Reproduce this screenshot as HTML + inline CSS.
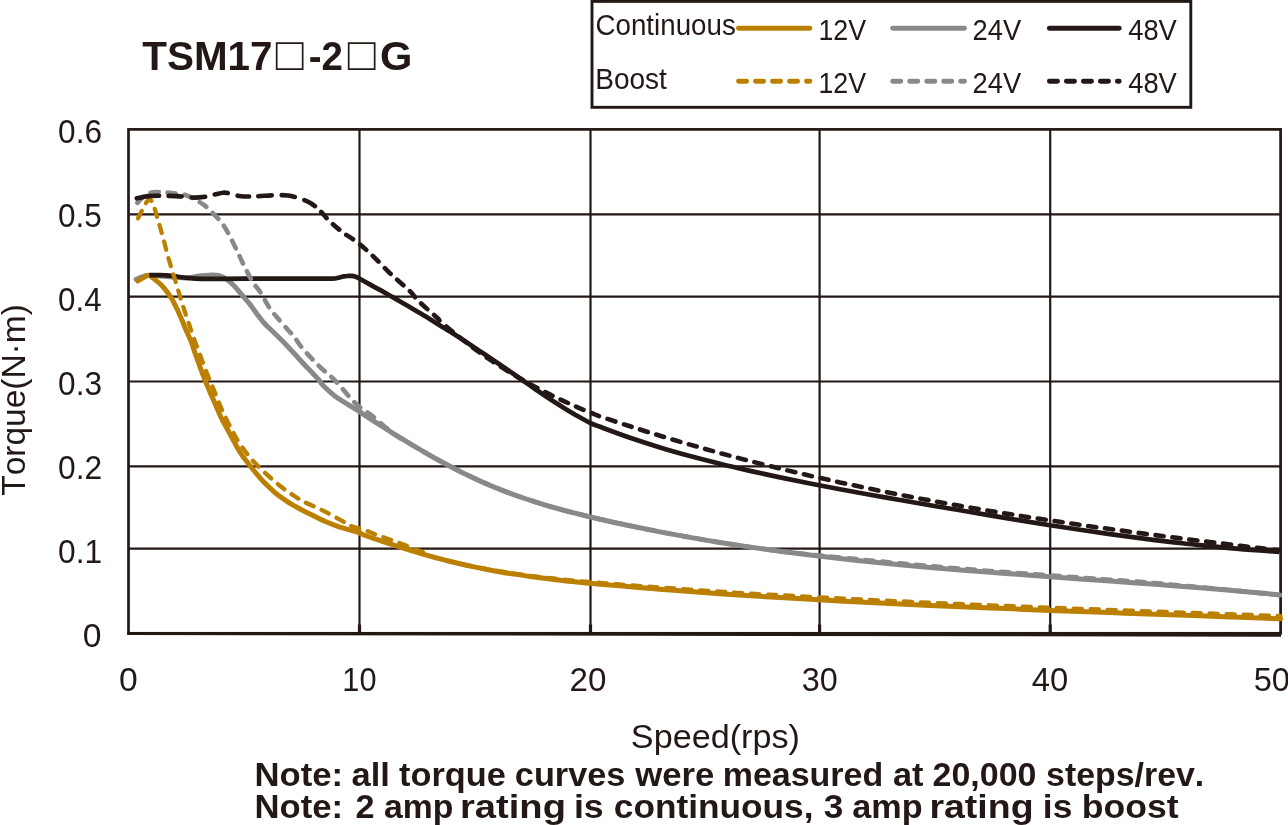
<!DOCTYPE html>
<html lang="en"><head><meta charset="utf-8"><title>TSM17-2G torque curves</title>
<style>
html,body{margin:0;padding:0;background:#fff;}
body{width:1288px;height:825px;overflow:hidden;}
svg{display:block;}
text{font-family:"Liberation Sans","Noto Sans CJK JP",sans-serif;fill:#231815;}
.b{font-weight:bold;}
text{font-kerning:none;}
.g{stroke:#231815;fill:none;}
.c{fill:none;stroke-linecap:round;stroke-linejoin:round;}
</style></head><body>
<svg width="1288" height="825" viewBox="0 0 1288 825">
<rect width="1288" height="825" fill="#fff"/>
<g class="g" stroke-width="2.2">
<line x1="359.5" y1="129.4" x2="359.5" y2="633.3"/>
<line x1="590.5" y1="129.4" x2="590.5" y2="633.3"/>
<line x1="819.6" y1="129.4" x2="819.6" y2="633.3"/>
<line x1="1050.2" y1="129.4" x2="1050.2" y2="633.3"/>
<line x1="128.5" y1="214.3" x2="1280.6" y2="214.3"/>
<line x1="128.5" y1="296.6" x2="1280.6" y2="296.6"/>
<line x1="128.5" y1="381.5" x2="1280.6" y2="381.5"/>
<line x1="128.5" y1="466.3" x2="1280.6" y2="466.3"/>
<line x1="128.5" y1="548.7" x2="1280.6" y2="548.7"/>
</g>
<g class="g" stroke-width="3.2">
<line x1="359.5" y1="624.5" x2="359.5" y2="633.3"/>
<line x1="590.5" y1="624.5" x2="590.5" y2="633.3"/>
<line x1="819.6" y1="624.5" x2="819.6" y2="633.3"/>
<line x1="1050.2" y1="624.5" x2="1050.2" y2="633.3"/>
</g>
<rect class="g" x="128.5" y="129.4" width="1152.1" height="503.9" stroke-width="2.7"/>
<line class="g" x1="127.2" y1="633.6" x2="1281" y2="635.3" stroke-width="2.8"/>
<path class="c" d="M136.1 279.2C137.1 278.8 140.1 277.6 142.0 277.0C143.9 276.4 144.3 275.7 147.3 275.5C150.3 275.3 153.8 275.6 160.0 276.0C166.2 276.4 178.4 277.9 184.6 278.0C190.8 278.1 193.8 276.7 197.0 276.3C200.2 275.9 201.5 275.7 204.0 275.5C206.5 275.3 209.3 275.0 211.9 275.0C214.5 275.0 216.9 274.9 219.4 275.6C221.9 276.3 224.3 277.7 226.8 279.4C229.3 281.1 231.8 283.4 234.3 286.0C236.8 288.6 239.2 291.8 241.7 294.7C244.2 297.6 246.7 300.3 249.2 303.4C251.7 306.5 254.1 310.1 256.6 313.4C259.1 316.7 261.5 320.1 264.1 323.0C266.7 325.9 269.0 327.9 272.0 330.8C275.0 333.7 278.3 336.8 282.0 340.6C285.7 344.4 290.1 349.1 294.2 353.5C298.3 357.9 302.5 362.6 306.6 367.0C310.8 371.4 316.5 377.2 319.1 380.2C321.7 383.2 319.8 382.2 322.4 384.8C325.0 387.4 330.6 392.8 334.8 396.0C339.0 399.2 343.2 401.5 347.3 404.1C351.4 406.7 356.8 409.7 359.7 411.6C362.6 413.5 361.8 413.2 365.0 415.4C368.2 417.5 374.3 421.5 379.0 424.5C383.7 427.4 388.3 430.4 393.0 433.3C397.7 436.2 402.3 439.1 407.0 441.9C411.7 444.8 416.3 447.5 421.0 450.2C425.7 453.0 430.3 455.6 435.0 458.2C439.7 460.8 444.3 463.3 449.0 465.8C453.7 468.3 458.3 470.6 463.0 472.9C467.7 475.2 472.3 477.5 477.0 479.6C481.7 481.8 486.3 483.8 491.0 485.8C495.7 487.7 500.3 489.6 505.0 491.4C509.7 493.2 514.3 494.9 519.0 496.5C523.7 498.2 528.3 499.7 533.0 501.2C537.7 502.7 542.3 504.2 547.0 505.6C551.7 506.9 556.3 508.2 561.0 509.5C565.7 510.8 570.3 512.0 575.0 513.2C579.7 514.3 584.8 515.6 589.0 516.6C593.2 517.6 593.2 517.6 600.0 519.2C606.8 520.7 620.0 523.7 630.0 525.8C640.0 527.9 650.0 529.9 660.0 531.9C670.0 533.8 680.0 535.6 690.0 537.4C700.0 539.2 710.0 540.9 720.0 542.5C730.0 544.1 740.0 545.6 750.0 547.1C760.0 548.5 770.0 549.9 780.0 551.3C790.0 552.6 800.0 553.9 810.0 555.1C820.0 556.3 830.0 557.5 840.0 558.6C850.0 559.7 860.0 560.7 870.0 561.8C880.0 562.8 890.0 563.7 900.0 564.7C910.0 565.6 920.0 566.5 930.0 567.4C940.0 568.3 950.0 569.1 960.0 569.9C970.0 570.7 980.0 571.5 990.0 572.3C1000.0 573.0 1010.0 573.8 1020.0 574.5C1030.0 575.3 1040.0 576.0 1050.0 576.7C1060.0 577.4 1070.0 578.1 1080.0 578.9C1090.0 579.6 1100.0 580.3 1110.0 581.0C1120.0 581.7 1130.0 582.4 1140.0 583.2C1150.0 583.9 1160.0 584.7 1170.0 585.4C1180.0 586.2 1190.0 587.0 1200.0 587.8C1210.0 588.6 1220.0 589.5 1230.0 590.3C1240.0 591.2 1251.7 592.3 1260.0 593.1C1268.3 593.8 1276.4 594.6 1279.7 595.0" stroke="#898989" stroke-width="5.0"/>
<path class="c" d="M137.8 281.0C138.6 280.5 141.1 279.0 142.5 278.2C143.9 277.4 145.2 276.5 146.3 276.0C147.4 275.5 148.0 275.2 148.8 275.2C149.6 275.2 150.2 275.7 151.0 276.2C151.8 276.7 151.6 277.0 153.3 278.4C155.0 279.8 158.5 282.2 161.1 284.8C163.7 287.4 166.7 291.4 168.8 294.2C170.9 297.0 171.9 299.1 173.5 301.9C175.1 304.7 176.5 307.8 178.1 311.2C179.7 314.6 181.5 319.1 182.8 322.1C184.1 325.2 184.5 326.4 185.8 329.5C187.1 332.6 189.3 336.9 190.8 340.7C192.3 344.5 192.5 345.9 194.8 352.4C197.1 358.9 201.9 372.2 204.8 379.7C207.7 387.1 209.7 391.3 212.2 397.1C214.7 402.9 218.0 410.7 219.7 414.5C221.4 418.3 220.5 416.4 222.4 420.0C224.3 423.6 228.1 430.6 231.1 436.1C234.1 441.6 237.6 448.4 240.5 453.0C243.4 457.6 245.7 460.1 248.3 463.5C250.9 466.9 253.4 470.1 256.0 473.2C258.6 476.3 261.2 479.4 263.8 482.1C266.4 484.8 268.9 487.1 271.5 489.4C274.1 491.7 276.7 494.1 279.3 496.1C281.9 498.1 284.4 499.7 287.0 501.4C289.6 503.1 292.2 504.6 294.9 506.2C297.6 507.8 300.6 509.3 303.4 510.8C306.2 512.3 309.3 513.7 311.9 515.0C314.5 516.3 316.6 517.4 318.9 518.5C321.2 519.6 323.5 520.7 325.9 521.7C328.2 522.7 330.7 523.7 333.0 524.6C335.3 525.5 337.7 526.5 339.9 527.2C342.1 527.9 344.0 528.4 346.0 528.9C348.0 529.4 349.6 529.9 352.0 530.5C354.4 531.1 358.4 532.2 360.1 532.8C361.8 533.4 359.4 533.2 362.0 534.3C364.6 535.4 371.3 537.6 376.0 539.2C380.7 540.8 385.3 542.3 390.0 543.9C394.7 545.4 399.3 546.9 404.0 548.4C408.7 549.9 413.3 551.3 418.0 552.7C422.7 554.1 427.3 555.4 432.0 556.7C436.7 558.0 441.3 559.2 446.0 560.4C450.7 561.6 455.3 562.8 460.0 563.8C464.7 564.9 469.3 565.9 474.0 566.9C478.7 567.9 483.3 568.8 488.0 569.7C492.7 570.5 497.3 571.4 502.0 572.2C506.7 573.0 511.3 573.7 516.0 574.4C520.7 575.1 525.3 575.8 530.0 576.4C534.7 577.1 539.3 577.7 544.0 578.3C548.7 578.9 553.3 579.4 558.0 579.9C562.7 580.5 567.3 581.0 572.0 581.5C576.7 582.0 581.3 582.4 586.0 582.9C590.7 583.3 592.7 583.5 600.0 584.2C607.3 584.8 620.0 585.9 630.0 586.8C640.0 587.6 650.0 588.4 660.0 589.2C670.0 590.0 680.0 590.8 690.0 591.5C700.0 592.3 710.0 593.0 720.0 593.7C730.0 594.4 740.0 595.0 750.0 595.7C760.0 596.3 770.0 597.0 780.0 597.6C790.0 598.2 800.0 598.8 810.0 599.3C820.0 599.9 830.0 600.5 840.0 601.0C850.0 601.5 860.0 602.1 870.0 602.6C880.0 603.1 890.0 603.6 900.0 604.0C910.0 604.5 920.0 605.0 930.0 605.4C940.0 605.9 950.0 606.3 960.0 606.7C970.0 607.2 980.0 607.6 990.0 608.0C1000.0 608.4 1010.0 608.8 1020.0 609.2C1030.0 609.6 1040.0 610.0 1050.0 610.4C1060.0 610.7 1070.0 611.1 1080.0 611.5C1090.0 611.9 1100.0 612.2 1110.0 612.6C1120.0 613.0 1130.0 613.3 1140.0 613.7C1150.0 614.0 1160.0 614.4 1170.0 614.8C1180.0 615.1 1190.0 615.5 1200.0 615.8C1210.0 616.2 1220.0 616.6 1230.0 616.9C1240.0 617.3 1251.6 617.7 1260.0 618.0C1268.4 618.3 1277.1 618.7 1280.5 618.8" stroke="#BB8002" stroke-width="5.0"/>
<path class="c" style="stroke-linecap:butt" d="M149.3 275.1C151.1 275.1 157.2 275.1 160.0 275.1C162.8 275.1 163.9 275.2 166.0 275.3C168.1 275.4 169.6 275.5 172.7 275.9C175.8 276.3 180.4 277.1 184.3 277.5C188.2 277.9 192.1 278.4 196.0 278.6C199.9 278.8 203.7 278.9 207.6 278.9C211.5 278.9 210.7 278.9 219.4 278.8C228.1 278.8 246.6 278.6 260.0 278.6C273.4 278.6 288.7 278.6 300.0 278.6C311.3 278.6 322.2 278.6 328.0 278.6C333.8 278.6 333.0 278.7 334.9 278.5C336.8 278.3 338.0 277.8 339.5 277.4C341.0 277.0 342.6 276.6 343.9 276.4C345.2 276.2 346.3 276.1 347.5 276.0C348.7 275.9 349.9 275.7 351.3 275.8C352.7 275.9 354.4 276.3 355.8 276.8C357.2 277.3 357.1 277.2 359.8 278.7C362.5 280.2 368.6 283.7 372.0 285.6C375.4 287.5 376.3 287.9 380.0 289.9C383.7 292.0 389.3 295.2 394.0 297.9C398.7 300.6 403.3 303.3 408.0 306.0C412.7 308.8 417.3 311.5 422.0 314.3C426.7 317.1 431.3 320.0 436.0 322.9C440.7 325.7 445.3 328.7 450.0 331.6C454.7 334.6 459.3 337.6 464.0 340.6C468.7 343.7 473.3 346.8 478.0 349.9C482.7 353.0 487.3 356.1 492.0 359.2C496.7 362.4 501.3 365.6 506.0 368.8C510.7 372.0 515.3 375.2 520.0 378.5C524.7 381.7 529.3 385.0 534.0 388.2C538.7 391.4 543.3 394.6 548.0 397.7C552.7 400.8 557.3 403.8 562.0 406.7C566.7 409.7 571.3 412.5 576.0 415.2C580.7 417.9 586.0 421.0 590.0 422.9C594.0 424.9 593.3 424.3 600.0 426.8C606.7 429.3 620.0 434.3 630.0 437.8C640.0 441.2 650.0 444.4 660.0 447.5C670.0 450.6 680.0 453.4 690.0 456.1C700.0 458.8 710.0 461.4 720.0 463.8C730.0 466.3 740.0 468.6 750.0 470.9C760.0 473.1 770.0 475.3 780.0 477.4C790.0 479.5 800.0 481.5 810.0 483.5C820.0 485.4 830.0 487.3 840.0 489.2C850.0 491.1 860.0 492.9 870.0 494.7C880.0 496.5 890.0 498.2 900.0 500.0C910.0 501.7 920.0 503.4 930.0 505.2C940.0 506.9 950.0 508.6 960.0 510.3C970.0 512.0 980.0 513.7 990.0 515.4C1000.0 517.1 1010.0 518.7 1020.0 520.4C1030.0 522.0 1040.0 523.6 1050.0 525.2C1060.0 526.7 1070.0 528.3 1080.0 529.8C1090.0 531.3 1100.0 532.7 1110.0 534.1C1120.0 535.5 1130.0 536.9 1140.0 538.2C1150.0 539.4 1160.0 540.7 1170.0 541.9C1180.0 543.0 1190.0 544.2 1200.0 545.2C1210.0 546.2 1220.0 547.2 1230.0 548.1C1240.0 549.0 1251.8 549.9 1260.0 550.5C1268.2 551.1 1275.9 551.6 1279.1 551.8" stroke="#231815" stroke-width="4.7"/>
<path class="c" d="M138.0 218.4C138.8 216.8 141.5 211.3 143.0 208.5C144.5 205.7 145.9 203.1 147.0 201.5C148.1 199.9 148.8 199.3 149.5 199.2C150.2 199.1 150.8 200.1 151.5 201.0C152.2 201.9 152.4 201.7 153.5 204.8C154.6 207.9 156.3 214.3 157.9 219.7C159.5 225.1 161.2 231.1 162.9 237.1C164.6 243.1 166.2 250.1 167.8 255.7C169.4 261.3 171.0 266.8 172.2 270.6C173.3 274.4 173.7 275.2 174.7 278.6C175.7 282.0 177.2 286.9 178.4 291.0C179.6 295.1 180.9 299.5 182.1 303.4C183.3 307.3 184.6 310.9 185.8 314.6C187.1 318.3 188.3 322.1 189.6 325.8C190.8 329.5 191.8 332.8 193.3 337.0C194.8 341.2 196.5 345.4 198.6 351.1C200.7 356.8 203.7 365.2 206.0 371.0C208.3 376.8 209.9 380.3 212.2 385.9C214.5 391.5 217.6 399.5 219.7 404.5C221.8 409.5 222.8 411.8 224.7 415.7C226.6 419.6 228.8 424.1 230.9 428.1C233.0 432.1 234.6 435.5 237.3 439.9C240.0 444.2 244.2 450.2 247.3 454.2C250.4 458.2 252.5 460.5 256.0 464.1C259.5 467.7 264.3 472.2 268.4 475.9C272.5 479.6 276.7 483.3 280.8 486.5C284.9 489.7 289.3 492.6 293.2 495.2C297.1 497.8 300.0 499.7 304.4 502.0C308.8 504.3 315.4 506.9 319.3 508.8C323.2 510.7 324.0 511.1 328.0 513.2C332.0 515.4 339.9 519.7 343.5 521.7C347.1 523.7 345.9 523.9 349.8 525.4C353.7 526.9 363.0 529.5 367.1 531.0C371.2 532.5 369.6 532.2 374.6 534.1C379.6 536.0 389.4 539.4 397.0 542.2C404.6 545.0 414.2 548.6 420.0 551.0C425.8 553.4 427.7 555.1 432.0 556.7C436.3 558.3 441.3 559.2 446.0 560.4C450.7 561.5 455.3 562.6 460.0 563.7C464.7 564.7 469.3 565.7 474.0 566.6C478.7 567.6 483.3 568.5 488.0 569.3C492.7 570.1 497.3 570.9 502.0 571.7C506.7 572.4 511.3 573.1 516.0 573.8C520.7 574.5 525.3 575.1 530.0 575.7C534.7 576.4 539.3 576.9 544.0 577.5C548.7 578.0 553.3 578.5 558.0 579.0C562.7 579.5 567.3 580.0 572.0 580.4C576.7 580.9 581.3 581.3 586.0 581.7C590.7 582.1 592.7 582.3 600.0 582.9C607.3 583.5 620.0 584.5 630.0 585.3C640.0 586.0 650.0 586.8 660.0 587.5C670.0 588.2 680.0 588.9 690.0 589.6C700.0 590.3 710.0 591.0 720.0 591.6C730.0 592.3 740.0 592.9 750.0 593.5C760.0 594.1 770.0 594.7 780.0 595.2C790.0 595.8 800.0 596.3 810.0 596.8C820.0 597.4 830.0 597.8 840.0 598.3C850.0 598.9 860.0 599.4 870.0 599.9C880.0 600.4 890.0 600.9 900.0 601.3C910.0 601.8 920.0 602.3 930.0 602.7C940.0 603.2 950.0 603.6 960.0 604.0C970.0 604.5 980.0 604.9 990.0 605.3C1000.0 605.7 1010.0 606.1 1020.0 606.5C1030.0 606.9 1040.0 607.3 1050.0 607.7C1060.0 608.0 1070.0 608.4 1080.0 608.8C1090.0 609.2 1100.0 609.5 1110.0 609.9C1120.0 610.3 1130.0 610.6 1140.0 611.0C1150.0 611.3 1160.0 611.7 1170.0 612.1C1180.0 612.4 1190.0 612.8 1200.0 613.1C1210.0 613.5 1220.0 613.9 1230.0 614.2C1240.0 614.6 1251.6 615.0 1260.0 615.3C1268.4 615.6 1277.1 616.0 1280.5 616.1" stroke="#BB8002" stroke-width="4.3" stroke-dasharray="8.2 8.8"/>
<path class="c" d="M137.4 202.9C138.3 201.9 141.0 198.7 143.0 197.0C145.0 195.3 146.8 193.8 149.2 193.0C151.6 192.2 154.5 192.2 157.3 192.1C160.1 192.0 162.9 192.2 166.0 192.5C169.1 192.8 172.8 193.2 175.9 193.6C179.0 194.0 181.5 193.9 184.6 194.8C187.7 195.7 191.2 197.4 194.5 199.2C197.8 201.0 201.4 203.0 204.5 205.4C207.6 207.8 210.1 210.3 213.2 213.5C216.3 216.7 220.0 220.2 223.1 224.7C226.2 229.1 229.1 235.0 231.8 240.2C234.5 245.4 237.0 251.0 239.3 255.7C241.6 260.4 243.2 264.2 245.5 268.6C247.8 273.0 250.4 278.4 252.9 282.3C255.4 286.2 257.7 288.1 260.4 292.2C263.1 296.3 266.1 302.8 269.0 307.1C271.9 311.5 274.6 314.5 277.8 318.3C281.0 322.1 285.3 326.9 288.0 330.0C290.7 333.1 291.9 333.9 294.2 336.8C296.5 339.7 298.6 343.6 301.7 347.4C304.8 351.2 309.6 356.3 312.9 359.8C316.2 363.3 318.8 365.9 321.6 368.5C324.5 371.1 327.2 373.1 330.0 375.7C332.8 378.3 335.3 380.6 338.6 384.2C341.9 387.8 346.3 393.5 349.8 397.3C353.3 401.1 356.0 404.1 359.7 407.2C363.4 410.3 366.6 411.5 372.1 415.9C377.7 420.3 387.2 429.0 393.0 433.3C398.8 437.7 402.3 439.1 407.0 441.9C411.7 444.8 416.3 447.5 421.0 450.2C425.7 453.0 430.3 455.6 435.0 458.2C439.7 460.8 444.3 463.3 449.0 465.8C453.7 468.3 458.3 470.6 463.0 472.9C467.7 475.2 472.3 477.5 477.0 479.6C481.7 481.8 486.3 483.8 491.0 485.8C495.7 487.7 500.3 489.6 505.0 491.4C509.7 493.2 514.3 494.9 519.0 496.5C523.7 498.2 528.3 499.7 533.0 501.2C537.7 502.7 542.3 504.2 547.0 505.6C551.7 506.9 556.3 508.2 561.0 509.5C565.7 510.8 570.3 512.0 575.0 513.2C579.7 514.3 584.8 515.6 589.0 516.6C593.2 517.6 593.2 517.6 600.0 519.2C606.8 520.7 620.0 523.7 630.0 525.8C640.0 527.9 650.0 529.9 660.0 531.9C670.0 533.8 680.0 535.6 690.0 537.4C700.0 539.2 710.0 540.9 720.0 542.5C730.0 544.1 740.0 545.6 750.0 547.1C760.0 548.5 770.0 550.0 780.0 551.3C790.0 552.5 800.0 553.5 810.0 554.5C820.0 555.6 830.0 556.5 840.0 557.5C850.0 558.4 860.0 559.5 870.0 560.5C880.0 561.4 890.0 562.4 900.0 563.4C910.0 564.3 920.0 565.2 930.0 566.1C940.0 567.0 950.0 567.8 960.0 568.6C970.0 569.4 980.0 570.2 990.0 571.0C1000.0 571.7 1010.0 572.5 1020.0 573.2C1030.0 574.0 1040.0 574.7 1050.0 575.4C1060.0 576.1 1070.0 576.8 1080.0 577.6C1090.0 578.3 1100.0 579.0 1110.0 579.7C1120.0 580.4 1130.0 581.1 1140.0 581.9C1150.0 582.7 1160.0 583.5 1170.0 584.4C1180.0 585.3 1190.0 586.2 1200.0 587.2C1210.0 588.1 1220.0 589.1 1230.0 590.1C1240.0 591.1 1251.7 592.2 1260.0 593.1C1268.3 593.9 1276.4 594.6 1279.7 595.0" stroke="#898989" stroke-width="4.6" stroke-dasharray="8.2 8.8"/>
<path class="c" d="M136.8 198.3C138.7 197.9 144.6 196.5 148.0 196.1C151.4 195.7 152.7 195.7 157.3 195.7C162.0 195.7 171.4 195.9 175.9 196.1C180.4 196.3 181.5 196.4 184.6 196.7C187.7 196.9 190.8 197.6 194.5 197.6C198.2 197.6 203.7 197.0 207.0 196.5C210.3 196.0 211.7 195.2 214.4 194.6C217.1 194.0 220.6 192.9 223.1 192.7C225.6 192.5 227.0 192.9 229.3 193.4C231.6 193.9 234.3 195.0 236.8 195.5C239.3 196.0 240.9 196.4 244.2 196.5C247.5 196.6 251.4 196.5 256.6 196.3C261.8 196.1 270.1 195.3 275.3 195.2C280.5 195.1 284.0 195.0 288.0 195.5C292.0 196.0 295.5 197.1 299.2 198.3C302.9 199.5 307.0 200.9 310.4 202.9C313.8 204.9 316.6 207.4 319.7 210.4C322.8 213.4 325.4 217.1 329.1 220.7C332.8 224.3 337.5 228.3 342.1 231.9C346.8 235.5 352.0 238.2 357.0 242.1C362.0 246.0 366.4 249.9 372.0 255.2C377.6 260.5 384.4 267.9 390.6 273.8C396.8 279.7 404.6 286.0 409.3 290.6C414.0 295.2 414.0 296.6 418.7 301.2C423.4 305.8 433.8 314.7 437.3 318.0C440.9 321.3 437.2 318.5 440.0 321.0C442.8 323.4 449.3 329.0 454.0 332.8C458.7 336.7 463.3 340.3 468.0 343.9C472.7 347.4 477.3 350.9 482.0 354.2C486.7 357.5 491.3 360.6 496.0 363.7C500.7 366.8 505.3 369.7 510.0 372.5C514.7 375.4 519.3 378.1 524.0 380.7C528.7 383.4 533.3 385.9 538.0 388.4C542.7 390.8 547.3 393.2 552.0 395.5C556.7 397.8 561.3 400.0 566.0 402.1C570.7 404.2 575.3 406.3 580.0 408.3C584.7 410.3 590.7 412.7 594.0 414.0C597.3 415.4 594.0 414.3 600.0 416.4C606.0 418.4 620.0 423.1 630.0 426.3C640.0 429.5 650.0 432.7 660.0 435.7C670.0 438.8 680.0 441.8 690.0 444.6C700.0 447.5 710.0 450.3 720.0 453.1C730.0 455.8 740.0 458.5 750.0 461.0C760.0 463.6 770.0 466.1 780.0 468.6C790.0 471.0 800.0 473.4 810.0 475.7C820.0 478.0 830.0 480.2 840.0 482.4C850.0 484.6 860.0 486.7 870.0 488.8C880.0 490.8 890.0 492.8 900.0 494.8C910.0 496.7 920.0 498.6 930.0 500.4C940.0 502.3 950.0 504.1 960.0 505.8C970.0 507.6 980.0 509.3 990.0 510.9C1000.0 512.6 1010.0 514.2 1020.0 515.8C1030.0 517.4 1040.0 518.9 1050.0 520.4C1060.0 521.9 1070.0 523.4 1080.0 524.8C1090.0 526.3 1100.0 527.7 1110.0 529.0C1120.0 530.4 1130.0 531.8 1140.0 533.1C1150.0 534.4 1160.0 535.7 1170.0 537.0C1180.0 538.3 1190.0 539.6 1200.0 540.8C1210.0 542.1 1220.0 543.3 1230.0 544.5C1240.0 545.7 1251.8 547.2 1260.0 548.1C1268.2 549.1 1275.9 550.1 1279.1 550.4" stroke="#231815" stroke-width="4.6" stroke-dasharray="22.7 9.3 13.2 10.1 13.2 10.1 13.2 10.1 11.7 9.2 13.3 10 13.3 10 12.5 8.4 8.2 8.8 8.2 8.8 8.2 8.8 8.2 8.8 8.2 8.8 8.2 8.8 8.2 8.8 8.2 8.8 8.2 8.8 8.2 8.8 8.2 8.8 8.2 8.8 8.2 8.8 8.2 8.8 8.2 8.8 8.2 8.8 8.2 8.8 8.2 8.8 8.2 8.8 8.2 8.8 8.2 8.8 8.2 8.8 8.2 8.8 8.2 8.8 8.2 8.8 8.2 8.8 8.2 8.8 8.2 8.8 8.2 8.8 8.2 8.8 8.2 8.8 8.2 8.8 8.2 8.8 8.2 8.8 8.2 8.8 8.2 8.8 8.2 8.8 8.2 8.8 8.2 8.8 8.2 8.8 8.2 8.8 8.2 8.8 8.2 8.8 8.2 8.8 8.2 8.8 8.2 8.8 8.2 8.8 8.2 8.8 8.2 8.8 8.2 8.8 8.2 8.8 8.2 8.8 8.2 8.8 8.2 8.8 8.2 8.8 8.2 8.8 8.2 8.8 8.2 8.8 8.2 8.8 8.2 8.8 8.2 8.8 8.2 8.8 8.2 8.8 8.2 8.8 8.2 8.8 8.2 8.8 8.2 8.8 8.2 8.8 8.2 8.8 8.2 8.8 8.2 8.8 8.2 8.8 8.2 8.8 8.2 8.8 8.2 8.8 8.2 8.8 8.2 8.8 8.2 8.8 8.2 8.8 8.2 8.8"/>
<rect class="g" x="592" y="1.4" width="598.8" height="105.9" fill="#fff" stroke-width="2.9"/>
<line class="c" x1="738.5" y1="28.2" x2="809.9" y2="28.2" stroke="#BB8002" stroke-width="4.9"/>
<line class="c" x1="738.5" y1="81.2" x2="809.9" y2="81.2" stroke="#BB8002" stroke-width="4.9" stroke-dasharray="8.1 8.9"/>
<text x="818.46" y="39.9" font-size="28.6" textLength="47.66" lengthAdjust="spacingAndGlyphs">12V</text>
<text x="818.46" y="93.0" font-size="28.6" textLength="47.66" lengthAdjust="spacingAndGlyphs">12V</text>
<line class="c" x1="892.7" y1="28.2" x2="964.5" y2="28.2" stroke="#898989" stroke-width="4.9"/>
<line class="c" x1="892.7" y1="81.2" x2="964.5" y2="81.2" stroke="#898989" stroke-width="4.9" stroke-dasharray="8.1 8.9"/>
<text x="972.53" y="39.9" font-size="28.6" textLength="48.59" lengthAdjust="spacingAndGlyphs">24V</text>
<text x="972.53" y="93.0" font-size="28.6" textLength="48.59" lengthAdjust="spacingAndGlyphs">24V</text>
<line class="c" x1="1049.4" y1="28.2" x2="1119.2" y2="28.2" stroke="#231815" stroke-width="4.9"/>
<line class="c" x1="1049.4" y1="81.2" x2="1119.2" y2="81.2" stroke="#231815" stroke-width="4.9" stroke-dasharray="8.1 8.9"/>
<text x="1128.27" y="39.9" font-size="28.6" textLength="48.55" lengthAdjust="spacingAndGlyphs">48V</text>
<text x="1128.27" y="93.0" font-size="28.6" textLength="48.55" lengthAdjust="spacingAndGlyphs">48V</text>
<text x="595.49" y="34.7" font-size="28.6" textLength="140.31" lengthAdjust="spacingAndGlyphs">Continuous</text>
<text x="595.20" y="88.9" font-size="28.6" textLength="71.71" lengthAdjust="spacingAndGlyphs">Boost</text>
<text class="b" y="69.7" font-size="41.4"><tspan x="142.25" textLength="130.33" lengthAdjust="spacingAndGlyphs">TSM17</tspan><tspan x="275.86" dy="0.1" font-size="46.3" font-weight="normal">□</tspan><tspan x="308.70" textLength="34.25" lengthAdjust="spacingAndGlyphs" dy="-0.1">-2</tspan><tspan x="347.86" dy="0.1" font-size="46.3" font-weight="normal">□</tspan><tspan x="379.99" textLength="32.39" lengthAdjust="spacingAndGlyphs" dy="-0.1">G</tspan></text>
<text x="58.07" y="142.7" font-size="32.7" textLength="43.92" lengthAdjust="spacingAndGlyphs">0.6</text>
<text x="58.07" y="226.7" font-size="32.7" textLength="43.86" lengthAdjust="spacingAndGlyphs">0.5</text>
<text x="58.08" y="310.7" font-size="32.7" textLength="43.44" lengthAdjust="spacingAndGlyphs">0.4</text>
<text x="58.07" y="394.7" font-size="32.7" textLength="43.92" lengthAdjust="spacingAndGlyphs">0.3</text>
<text x="58.06" y="478.7" font-size="32.7" textLength="44.14" lengthAdjust="spacingAndGlyphs">0.2</text>
<text x="58.06" y="562.7" font-size="32.7" textLength="44.09" lengthAdjust="spacingAndGlyphs">0.1</text>
<text x="82.78" y="646.7" font-size="32.7" textLength="18.73" lengthAdjust="spacingAndGlyphs">0</text>
<text x="119.08" y="691.4" font-size="32.7" textLength="18.73" lengthAdjust="spacingAndGlyphs">0</text>
<text x="342.36" y="691.4" font-size="32.7" textLength="34.14" lengthAdjust="spacingAndGlyphs">10</text>
<text x="569.63" y="691.4" font-size="32.7" textLength="36.86" lengthAdjust="spacingAndGlyphs">20</text>
<text x="801.77" y="691.4" font-size="32.7" textLength="36.00" lengthAdjust="spacingAndGlyphs">30</text>
<text x="1031.85" y="691.4" font-size="32.7" textLength="36.43" lengthAdjust="spacingAndGlyphs">40</text>
<text x="1253.69" y="691.4" font-size="32.7" textLength="36.28" lengthAdjust="spacingAndGlyphs">50</text>
<text x="630.85" y="748.0" font-size="33.6" textLength="169.07" lengthAdjust="spacingAndGlyphs">Speed(rps)</text>
<text transform="translate(24.6 495) rotate(-90)" x="-0.75" y="0" font-size="33.6" textLength="191.53" lengthAdjust="spacingAndGlyphs">Torque(N·m)</text>
<text class="b" y="786.1" font-size="33.9"><tspan x="254.48" textLength="88.55" lengthAdjust="spacingAndGlyphs">Note:</tspan> <tspan x="351.49" textLength="38.35" lengthAdjust="spacingAndGlyphs">all</tspan> <tspan x="399.08" textLength="106.69" lengthAdjust="spacingAndGlyphs">torque</tspan> <tspan x="514.86" textLength="110.44" lengthAdjust="spacingAndGlyphs">curves</tspan> <tspan x="635.30" textLength="79.08" lengthAdjust="spacingAndGlyphs">were</tspan> <tspan x="722.66" textLength="160.58" lengthAdjust="spacingAndGlyphs">measured</tspan> <tspan x="892.99" textLength="30.52" lengthAdjust="spacingAndGlyphs">at</tspan> <tspan x="932.62" textLength="103.77" lengthAdjust="spacingAndGlyphs">20,000</tspan> <tspan x="1046.11" textLength="158.12" lengthAdjust="spacingAndGlyphs">steps/rev.</tspan></text>
<text class="b" y="817.5" font-size="33.9"><tspan x="254.48" textLength="88.55" lengthAdjust="spacingAndGlyphs">Note:</tspan> <tspan x="355.61" textLength="19.06" lengthAdjust="spacingAndGlyphs">2</tspan> <tspan x="383.91" textLength="69.37" lengthAdjust="spacingAndGlyphs">amp</tspan> <tspan x="459.99" textLength="105.97" lengthAdjust="spacingAndGlyphs">rating</tspan> <tspan x="573.91" textLength="29.75" lengthAdjust="spacingAndGlyphs">is</tspan> <tspan x="613.82" textLength="199.63" lengthAdjust="spacingAndGlyphs">continuous,</tspan> <tspan x="823.89" textLength="19.58" lengthAdjust="spacingAndGlyphs">3</tspan> <tspan x="852.30" textLength="70.30" lengthAdjust="spacingAndGlyphs">amp</tspan> <tspan x="929.43" textLength="104.18" lengthAdjust="spacingAndGlyphs">rating</tspan> <tspan x="1042.83" textLength="29.52" lengthAdjust="spacingAndGlyphs">is</tspan> <tspan x="1081.76" textLength="96.78" lengthAdjust="spacingAndGlyphs">boost</tspan></text>
</svg></body></html>
